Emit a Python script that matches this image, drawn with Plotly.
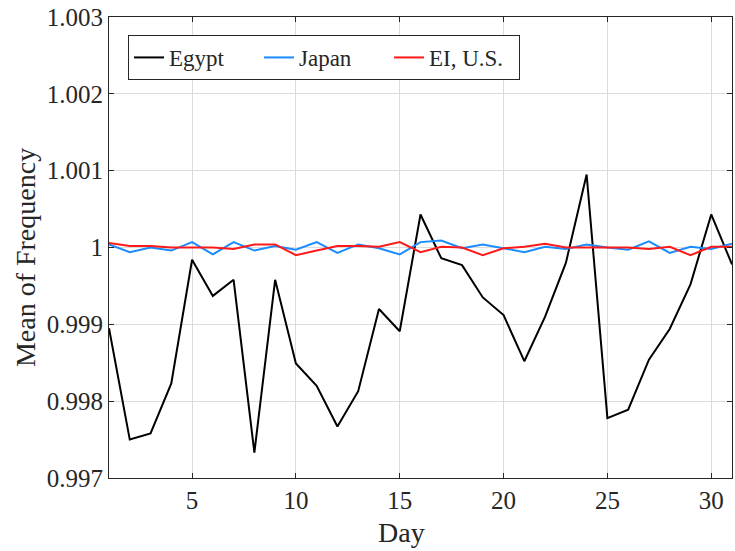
import plotly.graph_objects as go

days = list(range(1, 32))
egypt = [0.99895, 0.99750, 0.99758, 0.99823, 0.99984, 0.99937, 0.99958, 0.99733, 0.99958, 0.99849,
         0.99820, 0.99767, 0.99813, 0.99920, 0.99891, 1.00043, 0.99986, 0.99977, 0.99935, 0.99912,
         0.99852, 0.99910, 0.99980, 1.00095, 0.99778, 0.99789, 0.99854, 0.99894, 0.99952, 1.00043,
         0.99978]
japan = [1.00004, 0.99994, 1.00000, 0.99996, 1.00007, 0.99991, 1.00007, 0.99996, 1.00002, 0.99997,
         1.00007, 0.99993, 1.00004, 0.99999, 0.99991, 1.00007, 1.00009, 0.99999, 1.00004, 0.99999,
         0.99994, 1.00001, 0.99998, 1.00004, 1.00000, 0.99997, 1.00008, 0.99993, 1.00001, 0.99998,
         1.00005]
us = [1.00006, 1.00002, 1.00002, 1.00000, 1.00000, 1.00000, 0.99998, 1.00004, 1.00004, 0.99990,
      0.99996, 1.00002, 1.00002, 1.00001, 1.00007, 0.99994, 1.00001, 1.00000, 0.99990, 0.99999,
      1.00001, 1.00005, 1.00000, 1.00000, 1.00000, 1.00000, 0.99998, 1.00001, 0.99990, 1.00001,
      1.00001]
ytickvals = [0.997, 0.998, 0.999, 1.0, 1.001, 1.002, 1.003]
yticktext = ["0.997", "0.998", "0.999", "1", "1.001", "1.002", "1.003"]
xtickvals = [5, 10, 15, 20, 25, 30]

FONT = "Liberation Serif"
TXT = "#262626"

fig = go.Figure()
fig.add_trace(go.Scatter(x=days, y=egypt, mode="lines", name="Egypt",
                         line=dict(color="black", width=2)))
fig.add_trace(go.Scatter(x=days, y=japan, mode="lines", name="Japan",
                         line=dict(color="#1a8cff", width=2)))
fig.add_trace(go.Scatter(x=days, y=us, mode="lines", name="EI, U.S.",
                         line=dict(color="#ff1a1a", width=2)))

axis_common = dict(showline=True, linecolor=TXT, linewidth=1, mirror="ticks",
                   ticks="inside", ticklen=5, tickcolor=TXT, automargin=False,
                   ticklabeloverflow="allow",
                   showgrid=True, gridcolor="#dcdcdc", gridwidth=1, zeroline=False,
                   tickfont=dict(family=FONT, size=25, color=TXT))

fig.update_layout(
    width=735, height=551,
    margin=dict(l=109, r=3, t=17, b=73),
    paper_bgcolor="white", plot_bgcolor="white",
    font=dict(family=FONT, color=TXT),
    xaxis=dict(range=[1, 31], tickvals=xtickvals, **axis_common),
    yaxis=dict(range=[0.997, 1.003], tickvals=ytickvals, ticktext=yticktext, **axis_common),
    legend=dict(orientation="h", x=0.0305, y=0.961, xanchor="left", yanchor="top",
                bgcolor="white", bordercolor=TXT, borderwidth=1,
                font=dict(family=FONT, size=23, color=TXT),
                entrywidth=85, entrywidthmode="pixels", tracegroupgap=0),
    showlegend=True,
    annotations=[
        dict(text="Day", xref="paper", yref="paper", x=0.470, y=0, xanchor="center",
             yanchor="middle", yshift=-54, showarrow=False,
             font=dict(family=FONT, size=28, color=TXT)),
        dict(text="Mean of Frequency", xref="paper", yref="paper", x=0, y=0.477,
             xanchor="center", yanchor="middle", xshift=-84, textangle=-90, showarrow=False,
             font=dict(family=FONT, size=28, color=TXT)),
    ],
)

fig.write_html("out.html",
               config={"displayModeBar": False},
               post_script="document.body.style.margin='0';document.body.style.padding='0';")
